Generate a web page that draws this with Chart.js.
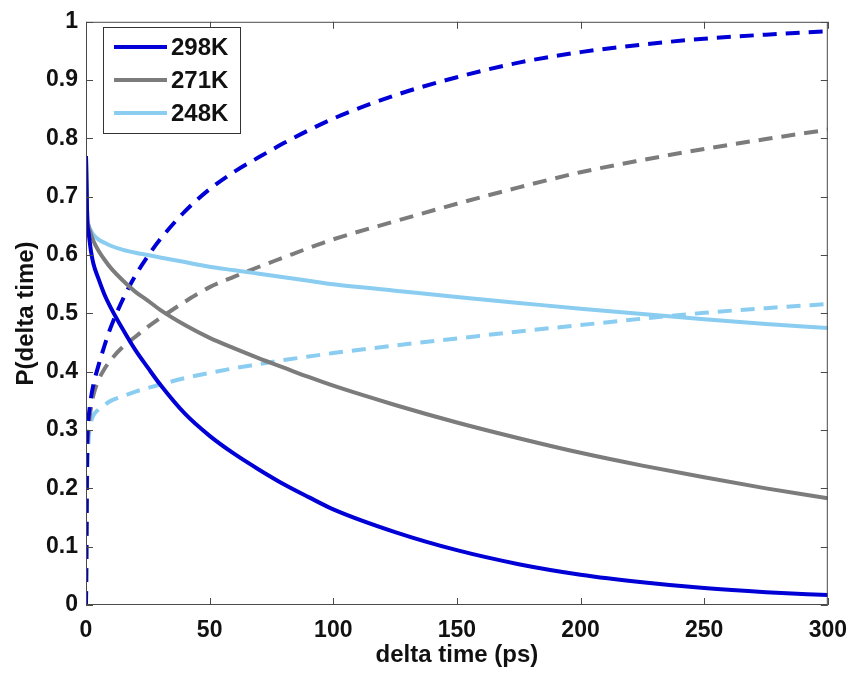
<!DOCTYPE html>
<html>
<head>
<meta charset="utf-8">
<script src="https://cdn.jsdelivr.net/npm/chart.js@4.4.1/dist/chart.umd.min.js"></script>
<style>
  html, body { margin: 0; padding: 0; background: #fff; }
  #wrap { width: 859px; height: 675px; }
</style>
</head>
<body>
<div id="wrap"><canvas id="chart" width="859" height="675"></canvas></div>
<script>
// ---- data ----
const times = [0, 0.5, 1, 2, 3, 5, 7.5, 10, 15, 20, 25, 30, 40, 50, 60, 70, 80, 90, 100, 125, 150, 175, 200, 225, 250, 275, 300];

// solid curves
const p298 = [0.77, 0.66, 0.64, 0.607, 0.585, 0.56, 0.532, 0.51, 0.472, 0.437, 0.407, 0.378, 0.328, 0.29, 0.259, 0.232, 0.207, 0.185, 0.164, 0.125, 0.094, 0.07, 0.052, 0.039, 0.029, 0.022, 0.017];
const p271 = [0.77, 0.665, 0.65, 0.636, 0.624, 0.608, 0.592, 0.578, 0.556, 0.537, 0.522, 0.506, 0.48, 0.458, 0.44, 0.423, 0.407, 0.391, 0.376, 0.343, 0.313, 0.286, 0.261, 0.239, 0.219, 0.2, 0.183];
const p248 = [0.77, 0.67, 0.652, 0.642, 0.635, 0.627, 0.621, 0.616, 0.609, 0.604, 0.6, 0.596, 0.588, 0.58, 0.574, 0.568, 0.562, 0.556, 0.55, 0.539, 0.528, 0.518, 0.508, 0.499, 0.49, 0.482, 0.475];

// dashed curves
const q298 = [0, 0.28, 0.32, 0.355, 0.378, 0.41, 0.445, 0.476, 0.525, 0.565, 0.598, 0.627, 0.675, 0.713, 0.743, 0.768, 0.792, 0.814, 0.834, 0.874, 0.905, 0.93, 0.948, 0.961, 0.971, 0.978, 0.984];
const q271 = [0, 0.25, 0.3, 0.338, 0.36, 0.385, 0.405, 0.42, 0.443, 0.46, 0.477, 0.492, 0.52, 0.545, 0.563, 0.58, 0.596, 0.612, 0.627, 0.658, 0.688, 0.716, 0.742, 0.763, 0.782, 0.799, 0.815];
const q248 = [0, 0.22, 0.28, 0.313, 0.325, 0.335, 0.343, 0.35, 0.358, 0.366, 0.372, 0.378, 0.389, 0.398, 0.406, 0.413, 0.42, 0.426, 0.432, 0.445, 0.457, 0.469, 0.48, 0.491, 0.501, 0.509, 0.516];

const seriesLabels = ['298K', '271K', '248K'];
const xTicks = [0, 50, 100, 150, 200, 250, 300];
const yTicks = [0, 0.1, 0.2, 0.3, 0.4, 0.5, 0.6, 0.7, 0.8, 0.9, 1];

const COLORS = {
  blue:  '#0000d6',
  gray:  '#7c7c7c',
  light: '#8acdf0',
};

const FONT = "'Liberation Sans', Arial, sans-serif";
const DASH = [14, 9];

const pts = vals => times.map((t, i) => ({ x: t, y: vals[i] }));

function line(label, vals, color, dashed) {
  return {
    label,
    data: pts(vals),
    borderColor: color,
    backgroundColor: color,
    borderWidth: 4,
    borderDash: dashed ? DASH : [],
    pointRadius: 0,
    cubicInterpolationMode: 'monotone',
    fill: false,
  };
}

// frame with inward ticks + MATLAB-style legend box
const framePlugin = {
  id: 'frame',
  afterDraw(chart) {
    const { ctx, chartArea: a, scales: { x, y } } = chart;
    ctx.save();
    ctx.strokeStyle = '#4a4a4a';
    ctx.lineWidth = 1;
    ctx.strokeRect(a.left + 0.5, a.top + 0.5, a.width - 1, a.height - 1);
    ctx.beginPath();
    xTicks.forEach(v => {
      const px = Math.round(x.getPixelForValue(v)) + 0.5;
      ctx.moveTo(px, a.bottom); ctx.lineTo(px, a.bottom - 7);
      ctx.moveTo(px, a.top); ctx.lineTo(px, a.top + 7);
    });
    yTicks.forEach(v => {
      const py = Math.round(y.getPixelForValue(v)) + 0.5;
      ctx.moveTo(a.left, py); ctx.lineTo(a.left + 7, py);
      ctx.moveTo(a.right, py); ctx.lineTo(a.right - 7, py);
    });
    ctx.stroke();

    // legend
    const bx = 103, by = 27, bw = 137, bh = 106;
    ctx.fillStyle = '#fff';
    ctx.fillRect(bx, by, bw, bh);
    ctx.strokeStyle = '#333';
    ctx.strokeRect(bx + 0.5, by + 0.5, bw, bh);
    ctx.font = `bold 24px ${FONT}`;
    ctx.textBaseline = 'middle';
    ctx.textAlign = 'left';
    [COLORS.blue, COLORS.gray, COLORS.light].forEach((c, i) => {
      const ly = 47 + i * 33;
      ctx.strokeStyle = c;
      ctx.lineWidth = 4;
      ctx.beginPath();
      ctx.moveTo(114, ly); ctx.lineTo(167, ly);
      ctx.stroke();
      ctx.fillStyle = '#111';
      ctx.fillText(seriesLabels[i], 171, ly + 1);
    });
    ctx.restore();
  }
};

new Chart(document.getElementById('chart'), {
  type: 'line',
  data: {
    datasets: [
      line(seriesLabels[0], p298, COLORS.blue, false),
      line(seriesLabels[1], p271, COLORS.gray, false),
      line(seriesLabels[2], p248, COLORS.light, false),
      line(seriesLabels[0] + ' b', q298, COLORS.blue, true),
      line(seriesLabels[1] + ' b', q271, COLORS.gray, true),
      line(seriesLabels[2] + ' b', q248, COLORS.light, true),
    ]
  },
  options: {
    responsive: false,
    animation: false,
    layout: { padding: { left: 0, right: 26, top: 17, bottom: 0 } },
    plugins: { legend: { display: false }, tooltip: { enabled: false } },
    scales: {
      x: {
        type: 'linear', min: 0, max: 300,
        afterBuildTicks: s => { s.ticks = xTicks.map(v => ({ value: v })); },
        afterFit: s => { s.height = 70; },
        grid: { display: false, drawTicks: false },
        border: { display: false },
        ticks: { color: '#111', padding: 12, maxRotation: 0, font: { family: FONT, size: 23, weight: 'bold' } },
        title: { display: true, text: 'delta time (ps)', color: '#111', padding: { top: 0, bottom: 5 }, font: { family: FONT, size: 24, weight: 'bold' } }
      },
      y: {
        type: 'linear', min: 0, max: 1,
        afterBuildTicks: s => { s.ticks = yTicks.map(v => ({ value: v })); },
        afterFit: s => { s.width = 86; },
        grid: { display: false, drawTicks: false },
        border: { display: false },
        ticks: { color: '#111', padding: 8, callback: v => String(+v.toFixed(1)), font: { family: FONT, size: 23, weight: 'bold' } },
        title: { display: true, text: 'P(delta time)', color: '#111', padding: { top: 12, bottom: 0 }, font: { family: FONT, size: 24, weight: 'bold' } }
      }
    }
  },
  plugins: [framePlugin]
});
</script>
</body>
</html>
